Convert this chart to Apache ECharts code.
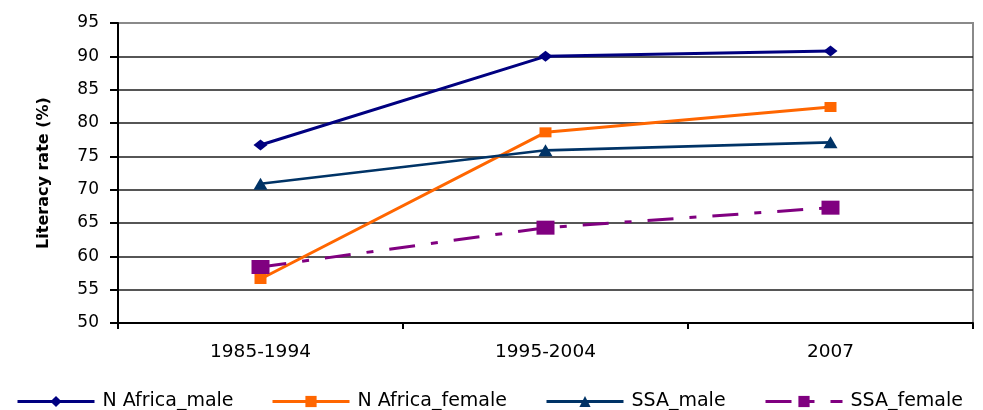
<!DOCTYPE html>
<html>
<head>
<meta charset="utf-8">
<script src="https://cdn.jsdelivr.net/npm/echarts@6/dist/echarts.min.js"></script>
<style>
html,body{margin:0;padding:0;background:#fff;}
#chart{width:983px;height:410px;}
</style>
</head>
<body>
<div id="chart"></div>
<script>
var categories = ['1985-1994', '1995-2004', '2007'];
var nAfricaMale = [76.7, 90.0, 90.8];
var nAfricaFemale = [56.6, 78.6, 82.4];
var ssaMale = [70.9, 75.9, 77.1];
var ssaFemale = [58.4, 64.3, 67.3];
var seriesNames = ['N Africa_male', 'N Africa_female', 'SSA_male', 'SSA_female'];
var yTitle = 'Literacy rate (%)';

var FONT = 'DejaVu Sans';
var chart = echarts.init(document.getElementById('chart'), null, {renderer: 'canvas'});

var gridColors = [];
for (var i = 0; i < 9; i++) gridColors.push('#1e1e1e');
gridColors.push('#8a8a8a');

function legendAt(name, left) {
  return {
    data: [name],
    left: left,
    top: 387,
    itemWidth: 77,
    itemHeight: 14,
    lineStyle: {width: 3},
    textStyle: {fontFamily: FONT, fontSize: 19, color: '#000', padding: [0, 0, 0, 3]},
    selectedMode: false
  };
}

chart.setOption({
  backgroundColor: '#fff',
  animation: false,
  grid: {left: 118, right: 10, top: 23, height: 300, show: true, borderColor: '#8a8a8a', borderWidth: 2, backgroundColor: '#fff'},
  legend: [
    legendAt(seriesNames[0], 11),
    legendAt(seriesNames[1], 266),
    legendAt(seriesNames[2], 540),
    legendAt(seriesNames[3], 759)
  ],
  xAxis: {
    type: 'category',
    data: categories,
    boundaryGap: true,
    axisLine: {lineStyle: {color: '#000', width: 2}},
    axisTick: {show: true, length: 6, lineStyle: {color: '#000', width: 2}},
    axisLabel: {fontFamily: FONT, fontSize: 18.5, color: '#000', margin: 20},
    splitLine: {show: false}
  },
  yAxis: {
    type: 'value',
    min: 50, max: 95, interval: 5,
    name: yTitle,
    nameLocation: 'middle',
    nameGap: 66,
    nameTextStyle: {fontFamily: FONT, fontSize: 16, fontWeight: 'bold', color: '#000'},
    axisLine: {show: true, lineStyle: {color: '#000', width: 2}},
    axisTick: {show: true, length: 8, lineStyle: {color: '#000', width: 2}},
    axisLabel: {fontFamily: FONT, fontSize: 17, color: '#000', margin: 19},
    splitLine: {show: true, lineStyle: {color: gridColors, width: 1.6}}
  },
  series: [
    {
      name: seriesNames[0], type: 'line', data: nAfricaMale,
      symbol: 'diamond', symbolSize: [14, 11],
      lineStyle: {color: '#000080', width: 3},
      itemStyle: {color: '#000080'}
    },
    {
      name: seriesNames[1], type: 'line', data: nAfricaFemale,
      symbol: 'rect', symbolSize: [12, 10],
      lineStyle: {color: '#FF6600', width: 3},
      itemStyle: {color: '#FF6600'}
    },
    {
      name: seriesNames[2], type: 'line', data: ssaMale,
      symbol: 'triangle', symbolSize: [14, 12],
      lineStyle: {color: '#003366', width: 2.6},
      itemStyle: {color: '#003366'}
    },
    {
      name: seriesNames[3], type: 'line', data: ssaFemale,
      symbol: 'rect', symbolSize: [18, 14],
      lineStyle: {color: '#800080', width: 3, type: [26, 16, 7, 16]},
      itemStyle: {color: '#800080'}
    }
  ]
});
</script>
</body>
</html>
